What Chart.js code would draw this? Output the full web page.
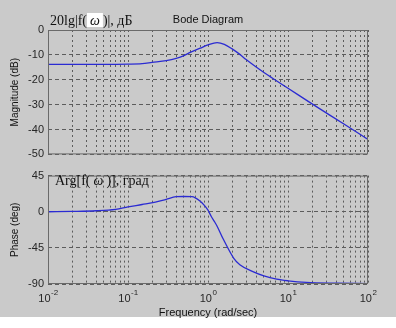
<!DOCTYPE html>
<html>
<head>
<meta charset="utf-8">
<script src="https://cdn.jsdelivr.net/npm/chart.js@4.4.1/dist/chart.umd.min.js"></script>
<style>
    html, body { margin: 0; padding: 0; }
    body {
        width: 396px;
        height: 328px;
        overflow: hidden;
        position: relative;
        background: linear-gradient(#cacaca 317px, #ffffff 317px);
    }
    canvas { position: absolute; left: 0; }
    #mag-chart { top: 0; }
    #phase-chart { top: 165px; }
</style>
</head>
<body>
<canvas id="mag-chart" width="396" height="165"></canvas>
<canvas id="phase-chart" width="396" height="163"></canvas>
<script>
// data
const magFreq = [0.01, 0.02, 0.05, 0.1, 0.15, 0.2, 0.3, 0.4, 0.5, 0.6, 0.8, 1.0, 1.3, 1.6, 2.0, 2.5, 3.0, 4, 5, 7, 10, 20, 50, 100]
const magDb = [-13.8, -13.8, -13.8, -13.7, -13.5, -13.0, -12.3, -11.4, -10.3, -9.0, -7.3, -6.0, -5.1, -5.8, -7.6, -9.8, -11.9, -14.9, -17.1, -20.2, -23.4, -29.7, -37.8, -44]

const phaseFreq = [0.01, 0.02, 0.04, 0.07, 0.1, 0.15, 0.22, 0.3, 0.4, 0.5, 0.63, 0.8, 0.9, 1.0, 1.1, 1.2, 1.3, 1.55, 2.1, 2.5, 3.7, 5, 7.2, 10, 17, 40, 100]
const phaseDeg = [0, 0.4, 1.2, 3, 6, 9, 12, 15.5, 18.7, 19, 18.7, 13, 8, 2, -6, -12, -18, -34, -58, -66, -75, -80, -84, -86, -88, -89, -89.5]

const magTicks = [0, -10, -20, -30, -40, -50]
const phaseTicks = [45, 0, -45, -90]
const decades = [-2, -1, 0, 1, 2]

// grid lines at 1..9 of every decade
const xGrid = []
decades.forEach(e => {
    for (let m = 1; m <= 9; m++) {
        const v = m * Math.pow(10, e)
        if (v <= 100.0001) xGrid.push(v)
    }
})

Chart.defaults.font.family = '"Liberation Sans", Arial, sans-serif'
Chart.defaults.color = '#262626'

const lineColor = '#2b2bd2'
const gridColor = '#5c5c5c'
const serif = '"Liberation Serif", "Times New Roman", serif'

// axes box plugin
const frame = {
    id: 'frame',
    afterDraw(chart) {
        const { ctx, chartArea: { left, top, width, height } } = chart
        ctx.save()
        ctx.strokeStyle = '#6a6a6a'
        ctx.lineWidth = 1
        ctx.strokeRect(left + 0.5, top + 0.5, width - 1, height - 1)
        ctx.restore()
    }
}

// draws "text (omega) text" with the omega in italics
function omegaText(ctx, x, y, pre, post, box) {
    ctx.font = '14px ' + serif
    ctx.fillStyle = '#111'
    ctx.textBaseline = 'alphabetic'
    ctx.textAlign = 'left'
    ctx.fillText(pre, x, y)
    x += ctx.measureText(pre).width
    ctx.font = 'italic 14px ' + serif
    const w = ctx.measureText('ω').width + 6
    if (box) {
        ctx.fillStyle = '#fff'
        ctx.fillRect(x, y - 12, w, 14)
    }
    ctx.fillStyle = '#111'
    ctx.fillText('ω', x + 3, y)
    x += w
    ctx.font = '14px ' + serif
    ctx.fillText(post, x, y)
}

function xScaleOpts(extra) {
    return Object.assign({
        type: 'logarithmic',
        min: 0.01,
        max: 100,
        afterBuildTicks: s => { s.ticks = xGrid.map(v => ({ value: v })) },
        ticks: { display: false },
        grid: { color: gridColor, drawTicks: false },
        border: { display: false, dash: [2, 3] }
    }, extra)
}

function yScaleOpts(min, max, ticks, title) {
    return {
        min: min,
        max: max,
        afterBuildTicks: s => { s.ticks = ticks.map(v => ({ value: v })) },
        afterFit: s => { s.width = 48 },
        ticks: { font: { size: 11 }, padding: 4, color: '#262626' },
        grid: { color: gridColor, drawTicks: false },
        border: { display: false, dash: [4, 3] },
        title: { display: true, text: title, font: { size: 10 }, color: '#111', padding: { top: 9, bottom: 0 } }
    }
}

// MAGNITUDE CHART ---------------------------------------------------------------
const magLabels = {
    id: 'magLabels',
    afterDraw(chart) {
        const { ctx, chartArea: { left, right } } = chart
        ctx.save()
        ctx.font = '11px "Liberation Sans", Arial, sans-serif'
        ctx.fillStyle = '#111'
        ctx.textAlign = 'center'
        ctx.fillText('Bode Diagram', (left + right) / 2, 23)
        omegaText(ctx, 50, 25, '20lg|f(', ')|, дБ', true)
        ctx.restore()
    }
}

const magChart = new Chart(document.getElementById('mag-chart'), {
    type: 'line',
    data: {
        datasets: [{
            data: magFreq.map((f, i) => ({ x: f, y: magDb[i] })),
            borderColor: lineColor,
            borderWidth: 1.3,
            pointRadius: 0,
            cubicInterpolationMode: 'monotone'
        }]
    },
    options: {
        responsive: false,
        animation: false,
        devicePixelRatio: 1,
        layout: { padding: { left: 0, right: 28, top: 30, bottom: 0 } },
        plugins: { legend: { display: false }, tooltip: { enabled: false } },
        scales: {
            x: xScaleOpts({ afterFit: s => { s.height = 6 } }),
            y: yScaleOpts(-50, 0, magTicks, 'Magnitude (dB)')
        }
    },
    plugins: [frame, magLabels]
})
// MAGNITUDE CHART ---------------------------------------------------------------

// PHASE CHART -------------------------------------------------------------------
const phaseLabels = {
    id: 'phaseLabels',
    afterDraw(chart) {
        const { ctx, chartArea: { left } } = chart
        const xs = chart.scales.x
        ctx.save()
        omegaText(ctx, left + 7, 20, 'Arg[f(', ')], град', false)
        // decade labels with raised exponent
        ctx.textBaseline = 'alphabetic'
        ctx.textAlign = 'left'
        decades.forEach(e => {
            const px = xs.getPixelForValue(Math.pow(10, e))
            ctx.font = '11px "Liberation Sans", Arial, sans-serif'
            const w1 = ctx.measureText('10').width
            ctx.font = '8px "Liberation Sans", Arial, sans-serif'
            const w2 = ctx.measureText(String(e)).width
            const x0 = px - (w1 + w2) / 2
            ctx.fillStyle = '#262626'
            ctx.font = '11px "Liberation Sans", Arial, sans-serif'
            ctx.fillText('10', x0, 137)
            ctx.font = '8px "Liberation Sans", Arial, sans-serif'
            ctx.fillText(String(e), x0 + w1 + 0.5, 130)
        })
        ctx.restore()
    }
}

const phaseChart = new Chart(document.getElementById('phase-chart'), {
    type: 'line',
    data: {
        datasets: [{
            data: phaseFreq.map((f, i) => ({ x: f, y: phaseDeg[i] })),
            borderColor: lineColor,
            borderWidth: 1.3,
            pointRadius: 0,
            cubicInterpolationMode: 'monotone'
        }]
    },
    options: {
        responsive: false,
        animation: false,
        devicePixelRatio: 1,
        layout: { padding: { left: 0, right: 28, top: 7, bottom: 0 } },
        plugins: { legend: { display: false }, tooltip: { enabled: false } },
        scales: {
            x: xScaleOpts({
                afterFit: s => { s.height = 44 },
                title: { display: true, text: 'Frequency (rad/sec)', font: { size: 11 }, color: '#111', padding: { top: 0, bottom: 8 } }
            }),
            y: yScaleOpts(-90, 45, phaseTicks, 'Phase (deg)')
        }
    },
    plugins: [frame, phaseLabels]
})
// PHASE CHART -------------------------------------------------------------------
</script>
</body>
</html>
